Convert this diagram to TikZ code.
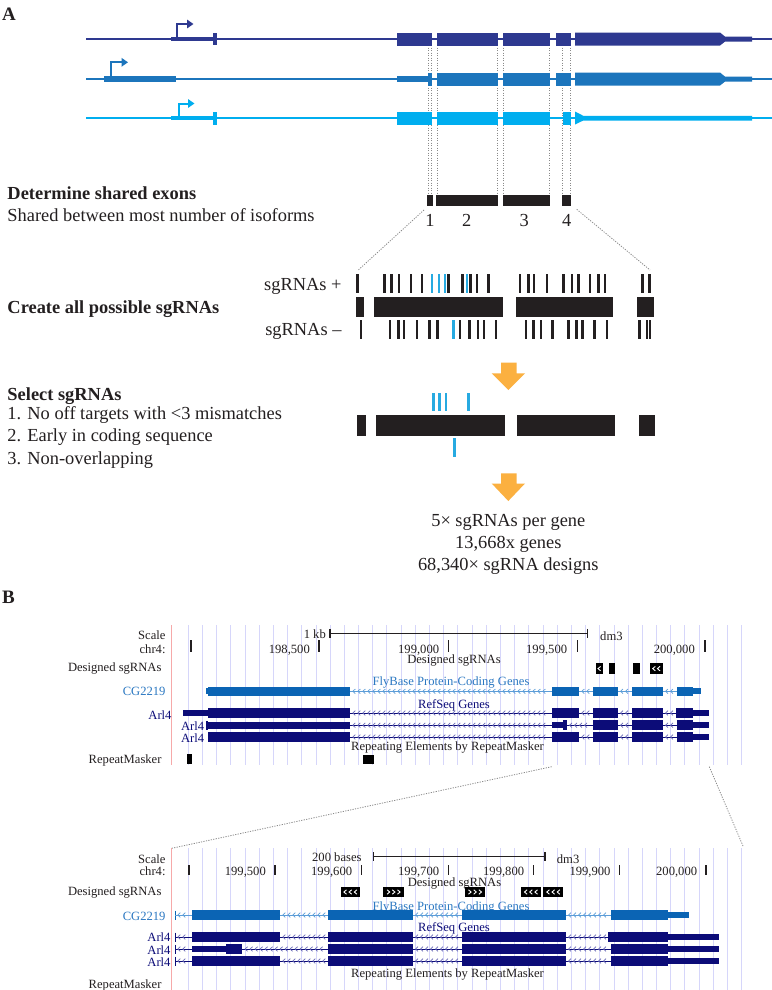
\documentclass[tikz,border=0pt]{standalone}
\usepackage{fontspec}
\setmainfont{Liberation Serif}
\usetikzlibrary{arrows.meta}
\definecolor{isoA}{HTML}{2E3990}
\definecolor{isoB}{HTML}{1C75BC}
\definecolor{isoC}{HTML}{00AEEF}
\definecolor{sgblue}{HTML}{27AAE1}
\definecolor{barblk}{HTML}{231F20}
\definecolor{orng}{HTML}{FBB040}
\definecolor{fbblue}{HTML}{0B64B4}
\definecolor{fbintr}{HTML}{5C9DD8}
\definecolor{fblabel}{HTML}{2B78C2}
\definecolor{rsnavy}{HTML}{0C0C78}
\definecolor{rsintr}{HTML}{6A6AB8}
\definecolor{gridc}{HTML}{D6D6FA}
\definecolor{pinkc}{HTML}{F6A9A9}
\definecolor{dotg}{HTML}{8A8A8A}
\definecolor{txtc}{HTML}{231F20}

\newcommand{\myintron}[5]{%
  \draw[#4,line width=0.9bp] (#1,#3) -- (#2,#3);
  \pgfmathtruncatemacro{\mynch}{((#2)-(#1)-2)/5}
  \ifnum\mynch>0
    \foreach \myk in {1,...,\mynch}{%
      \pgfmathsetmacro{\myxc}{#1+5*\myk-1}
      \draw[#5,line width=0.7bp] (\myxc+1.3,#3-2.3) -- (\myxc-1.2,#3) -- (\myxc+1.3,#3+2.3);
    }
  \fi
}
\newcommand{\myexon}[5]{\fill[#5] (#1,#3) rectangle (#2,#4);}
\newcommand{\mywchl}[2]{\draw[white,line width=0.9bp] (#1+1.3,#2-2.2) -- (#1-1.3,#2) -- (#1+1.3,#2+2.2);}
\newcommand{\mywchr}[2]{\draw[white,line width=0.9bp] (#1-1.3,#2-2.2) -- (#1+1.3,#2) -- (#1-1.3,#2+2.2);}

\tikzset{
  ta/.style={font=\fontsize{18.4bp}{22bp}\selectfont, text=txtc, inner sep=0pt},
  tab/.style={ta, font=\fontsize{18.4bp}{22bp}\selectfont\bfseries},
  tb/.style={font=\fontsize{12.6bp}{15bp}\selectfont, text=txtc, inner sep=0pt},
  dotl/.style={dotg, line width=0.8bp, dash pattern=on 1.2bp off 1.3bp},
  prom/.style={line width=2bp, -{Triangle[length=6.5bp,width=8.5bp]}},
  tick/.style={barblk, line width=2.4bp},
  sgtick/.style={sgblue, line width=2.4bp},
  gline/.style={gridc, line width=1bp},
  rul/.style={txtc, line width=1.1bp},
}

\begin{document}
\begin{tikzpicture}[x=1bp,y=-1bp]
\useasboundingbox (0,0) rectangle (772,990);
\fill[white] (0,0) rectangle (772,990);

% ================= PANEL A =================
\node[tab, anchor=base west, font=\fontsize{19bp}{22bp}\selectfont\bfseries] (labA) at (2,20) {A};

% dotted verticals (behind isoforms)
\foreach \xx in {428,431,437,497.5,503.5,549.5,562.5,570.5}
  \draw[dotl] (\xx,45) -- (\xx,195);

% isoform 1
\draw[isoA, line width=2bp] (86,39) -- (772,39);
\fill[isoA] (171,36.8) rectangle (213.3,41.3);
\fill[isoA] (213.3,33.3) rectangle (217,45);
\draw[isoA, prom] (177,39) -- (177,24) -- (193.5,24);
\myexon{396.7}{432.3}{32.5}{45.5}{isoA}
\myexon{436.7}{498}{32.5}{45.5}{isoA}
\myexon{503.3}{550}{32.5}{45.5}{isoA}
\myexon{556}{571}{32.5}{45.5}{isoA}
\fill[isoA] (575,32.5) -- (720,32.5) -- (725,36.6) -- (752,36.6) -- (752,41.6) -- (725,41.6) -- (720,45.5) -- (575,45.5) -- cycle;

% isoform 2
\draw[isoB, line width=2bp] (86,79) -- (772,79);
\fill[isoB] (104.3,76.3) rectangle (175.7,81.7);
\draw[isoB, prom] (110.5,79) -- (110.5,62.3) -- (128,62.3);
\fill[isoB] (397,76.3) rectangle (428,81.7);
\myexon{428}{432.3}{72.5}{85.5}{isoB}
\myexon{436.7}{498}{72.5}{85.5}{isoB}
\myexon{503.3}{550}{72.5}{85.5}{isoB}
\myexon{556}{571}{72.5}{85.5}{isoB}
\fill[isoB] (575,72.5) -- (720,72.5) -- (725,76.6) -- (752,76.6) -- (752,81.6) -- (725,81.6) -- (720,85.5) -- (575,85.5) -- cycle;

% isoform 3
\draw[isoC, line width=2bp] (86,118) -- (772,118);
\fill[isoC] (171,115.7) rectangle (213.3,120.3);
\fill[isoC] (213.3,111.8) rectangle (217,124.5);
\draw[isoC, prom] (178.5,118) -- (178.5,103.5) -- (194.5,103.5);
\myexon{396.7}{432.3}{111.5}{124.5}{isoC}
\myexon{436.7}{498}{111.5}{124.5}{isoC}
\myexon{503.3}{550}{111.5}{124.5}{isoC}
\myexon{562.7}{571}{111.5}{124.5}{isoC}
\fill[isoC] (575,111.5) -- (583.3,115.8) -- (752,115.8) -- (752,120.5) -- (583.3,120.5) -- (575,124.5) -- cycle;

% shared exons
\node[tab, anchor=base west] (detT) at (7.3,199) {Determine shared exons};
\node[ta, anchor=base west] (detS) at (7.3,221) {Shared between most number of isoforms};
\myexon{427.3}{432.7}{195}{206}{barblk}
\myexon{436.3}{498.3}{195}{206}{barblk}
\myexon{502.7}{550}{195}{206}{barblk}
\myexon{562.3}{571.3}{195}{206}{barblk}
\node[ta, anchor=base] (n1) at (430,226.5) {1};
\node[ta, anchor=base] (n2) at (466.7,226.5) {2};
\node[ta, anchor=base] (n3) at (524.3,226.5) {3};
\node[ta, anchor=base] (n4) at (566.7,226.5) {4};
\draw[dotl] (424,210) -- (358.3,270);
\draw[dotl] (576.7,209.3) -- (650,270);

% all possible sgRNAs
\node[ta, anchor=base east] (sgp) at (341.7,290.5) {sgRNAs +};
\node[tab, anchor=base west] (crt) at (7.3,313) {Create all possible sgRNAs};
\node[ta, anchor=base east] (sgm) at (341.7,335) {sgRNAs –};
\foreach \xx in {357.3,384.3,391.5,398.8,411,421.7,448.5,462.5,470.5,476.7,488.5,520,528.3,534,546.7,563.3,571.7,578.3,590,598.3,605,642.3,649.3}
  \draw[tick] (\xx,274) -- (\xx,293);
\foreach \xx in {431.7,439,445,466.7}
  \draw[sgtick] (\xx,274) -- (\xx,293);
\myexon{356}{364}{296.5}{317}{barblk}
\myexon{374.3}{503.3}{296.5}{317}{barblk}
\myexon{515.7}{613.3}{296.5}{317}{barblk}
\myexon{637.3}{654}{296.5}{317}{barblk}
\foreach \xx in {360.7,390,398.3,404,416.7,429.3,437.3,460,469.3,477.7,484,496,525.7,533.5,540.7,552.3,568.3,576.5,582.3,594.3,607,639.3,647,650.2}
  \draw[tick] (\xx,320) -- (\xx,338.7);
\draw[sgtick] (453.3,320) -- (453.3,338.7);

% arrow 1
\fill[orng] (501,362.7) -- (516.7,362.7) -- (516.7,373.3) -- (525,373.3) -- (508.3,390) -- (491.7,373.3) -- (501,373.3) -- cycle;

% select sgRNAs
\node[tab, anchor=base west] (selT) at (7.3,400) {Select sgRNAs};
\node[ta, anchor=base west] (sel1) at (7.3,419) {1. No off targets with <3 mismatches};
\node[ta, anchor=base west] (sel2) at (7.3,441.5) {2. Early in coding sequence};
\node[ta, anchor=base west] (sel3) at (7.3,464) {3. Non-overlapping};
\foreach \xx in {433.3,439.3,446,468.3}
  \draw[sgtick] (\xx,393.3) -- (\xx,410.7);
\myexon{357.3}{365.7}{415}{435.7}{barblk}
\myexon{375.7}{505}{415}{435.7}{barblk}
\myexon{517.3}{615}{415}{435.7}{barblk}
\myexon{639}{655}{415}{435.7}{barblk}
\draw[sgtick] (454.3,438.3) -- (454.3,456.7);

% arrow 2
\fill[orng] (501,473.3) -- (516.7,473.3) -- (516.7,483.5) -- (525,483.5) -- (508.3,501) -- (491.7,483.5) -- (501,483.5) -- cycle;

\node[ta, anchor=base] (res1) at (508.3,526) {5× sgRNAs per gene};
\node[ta, anchor=base] (res2) at (508.3,548) {13,668x genes};
\node[ta, anchor=base] (res3) at (508.3,570) {68,340× sgRNA designs};

% ================= PANEL B =================
\node[tab, anchor=base west, font=\fontsize{19bp}{22bp}\selectfont\bfseries] (labB) at (2,603) {B};

% ---- top browser ----
\foreach \i in {0,...,39}
  \draw[gline] (188.3+14.19*\i,625) -- (188.3+14.19*\i,765);
\draw[pinkc, line width=1.1bp] (171.7,625) -- (171.7,765);

\node[tb, anchor=base east] (sc1) at (165.7,639) {Scale};
\node[tb, anchor=base east] (chA) at (165.7,653) {chr4:};
\node[tb, anchor=base east] (kb) at (326,638.5) {1 kb};
\draw[rul] (330,633.3) -- (587.3,633.3);
\draw[rul] (330,628.8) -- (330,637.8);
\draw[rul] (587.3,628.8) -- (587.3,637.8);
\node[tb, anchor=base west] (dmA) at (600,640) {dm3};
\foreach \xx in {191,319,448.3,577.3,705}
  \draw[rul] (\xx,640) -- (\xx,652);
\node[tb, anchor=base east] (pA1) at (310,653) {198,500};
\node[tb, anchor=base east] (pA2) at (439.3,653) {199,000};
\node[tb, anchor=base east] (pA3) at (567.3,653) {199,500};
\node[tb, anchor=base east] (pA4) at (695,653) {200,000};

\node[tb, anchor=base east] (dsA) at (161.7,671.7) {Designed sgRNAs};
\node[tb, anchor=base] (dsAc) at (454,663.7) {Designed sgRNAs};
\myexon{596}{602.7}{663.3}{674}{black}
\mywchl{599.3}{668.6}
\myexon{609.3}{615.3}{663.3}{674}{black}
\myexon{633.3}{640}{663.3}{674}{black}
\myexon{650}{662.7}{663.3}{674}{black}
\mywchl{654}{668.6}
\mywchl{658.7}{668.6}

\node[tb, anchor=base east, text=fblabel] (cgA) at (165.7,695) {CG2219};
\node[tb, anchor=base, text=fblabel] (fbA) at (451,685) {FlyBase Protein-Coding Genes};
\node[tb, anchor=base, text=rsnavy] (rsA) at (454,708.3) {RefSeq Genes};
\node[tb, anchor=base] (reA) at (447.5,750.5) {Repeating Elements by RepeatMasker};
\node[tb, anchor=base east, text=rsnavy] (arA1) at (171.7,719) {Arl4};
\node[tb, anchor=base east, text=rsnavy] (arA2) at (204.3,730.7) {Arl4};
\node[tb, anchor=base east, text=rsnavy] (arA3) at (204.3,742.3) {Arl4};
\node[tb, anchor=base east] (rmA) at (161.7,763.3) {RepeatMasker};

% CG2219 (top), centre y 691.3
\myintron{350}{551.7}{691.3}{fbintr}{fbintr}
\myintron{579}{593.3}{691.3}{fbintr}{fbintr}
\myintron{617.7}{632.3}{691.3}{fbintr}{fbintr}
\myintron{662.7}{677.3}{691.3}{fbintr}{fbintr}
\myexon{206}{208}{688.3}{694.3}{fbblue}
\myexon{207.7}{350}{686.5}{696}{fbblue}
\myexon{551.7}{579}{686.5}{696}{fbblue}
\myexon{593.3}{617.7}{686.5}{696}{fbblue}
\myexon{632.3}{662.7}{686.5}{696}{fbblue}
\myexon{677.3}{693.3}{686.5}{696}{fbblue}
\myexon{693.3}{701}{688.3}{694.3}{fbblue}

% Arl4 row 1, centre 713
\myintron{350}{551.7}{713}{rsnavy}{rsintr}
\myintron{579}{593.3}{713}{rsnavy}{rsintr}
\myintron{617.7}{632.3}{713}{rsnavy}{rsintr}
\myintron{662.7}{676}{713}{rsnavy}{rsintr}
\myexon{183.3}{207.7}{710.3}{716}{rsnavy}
\myexon{207.7}{350}{708}{718.3}{rsnavy}
\myexon{551.7}{579}{708}{718.3}{rsnavy}
\myexon{593.3}{617.7}{708}{718.3}{rsnavy}
\myexon{632.3}{662.7}{708}{718.3}{rsnavy}
\myexon{676}{693.3}{708}{718.3}{rsnavy}
\myexon{693.3}{709.3}{710.3}{716}{rsnavy}

% Arl4 row 2, centre 725.2
\myintron{350}{551.7}{725.2}{rsnavy}{rsintr}
\myintron{566.7}{593.3}{725.2}{rsnavy}{rsintr}
\myintron{617.7}{632.3}{725.2}{rsnavy}{rsintr}
\myintron{662.7}{677.3}{725.2}{rsnavy}{rsintr}
\myexon{206}{208}{721}{729.5}{rsnavy}
\myexon{207.7}{350}{722}{728.5}{rsnavy}
\myexon{551.7}{562.7}{722.4}{728}{rsnavy}
\myexon{562.7}{566.7}{720}{730.3}{rsnavy}
\myexon{593.3}{617.7}{720}{730.3}{rsnavy}
\myexon{632.3}{662.7}{720}{730.3}{rsnavy}
\myexon{677.3}{693.3}{720}{730.3}{rsnavy}
\myexon{693.3}{709.3}{722.4}{728}{rsnavy}

% Arl4 row 3, centre 737
\myintron{350}{551.7}{737}{rsnavy}{rsintr}
\myintron{579}{593.3}{737}{rsnavy}{rsintr}
\myintron{617.7}{632.3}{737}{rsnavy}{rsintr}
\myintron{662.7}{677.3}{737}{rsnavy}{rsintr}
\myexon{207.7}{350}{732}{742}{rsnavy}
\myexon{551.7}{579}{732}{742}{rsnavy}
\myexon{593.3}{617.7}{732}{742}{rsnavy}
\myexon{632.3}{662.7}{732}{742}{rsnavy}
\myexon{677.3}{693.3}{732}{742}{rsnavy}
\myexon{693.3}{709.3}{734.3}{739.7}{rsnavy}

% RepeatMasker
\myexon{186.7}{191.7}{754}{764}{black}
\myexon{363.3}{374}{755}{764}{black}

% zoom lines
\coordinate (zl1) at (551.7,766.7);
\coordinate (zl2) at (171.7,848.3);
\coordinate (zr1) at (709.3,766.7);
\coordinate (zr2) at (743.3,846.7);
\draw[dotl] (zl1) -- (zl2);
\draw[dotl] (zr1) -- (zr2);

% ---- bottom browser ----
\foreach \i in {0,...,39}
  \draw[gline] (188.3+14.19*\i,848.3) -- (188.3+14.19*\i,990);
\draw[pinkc, line width=1.1bp] (171.7,848.3) -- (171.7,990);

\node[tb, anchor=base east] (sc2) at (165.7,863.3) {Scale};
\node[tb, anchor=base east] (chB) at (165.7,875.7) {chr4:};
\node[tb, anchor=base east] (bases) at (361.7,861.7) {200 bases};
\draw[rul] (373.3,856.7) -- (545,856.7);
\draw[rul] (373.3,852.2) -- (373.3,861.2);
\draw[rul] (545,852.2) -- (545,861.2);
\node[tb, anchor=base west] (dmB) at (556.7,863) {dm3};
\foreach \xx in {189,275,361.7,448.3,533.3,619.3,706}
  \draw[rul] (\xx,865) -- (\xx,875);
\node[tb, anchor=base east] (pB1) at (266,875.7) {199,500};
\node[tb, anchor=base east] (pB2) at (352.3,875.7) {199,600};
\node[tb, anchor=base east] (pB3) at (439.3,875.7) {199,700};
\node[tb, anchor=base east] (pB4) at (524.3,875.7) {199,800};
\node[tb, anchor=base east] (pB5) at (610.7,875.7) {199,900};
\node[tb, anchor=base east] (pB6) at (697.3,875.7) {200,000};

\node[tb, anchor=base east] (dsB) at (161.7,895.7) {Designed sgRNAs};
\node[tb, anchor=base] (dsBc) at (454.5,886.7) {Designed sgRNAs};
\myexon{340.7}{360}{886.7}{897.3}{black}
\mywchl{345.2}{892}\mywchl{350.4}{892}\mywchl{355.6}{892}
\myexon{383.3}{404}{886.7}{897.3}{black}
\mywchr{388.4}{892}\mywchr{393.6}{892}\mywchr{398.8}{892}
\myexon{465}{485}{886.7}{897.3}{black}
\mywchr{469.8}{892}\mywchr{475}{892}\mywchr{480.2}{892}
\myexon{521}{541}{886.7}{897.3}{black}
\mywchl{525.8}{892}\mywchl{531}{892}\mywchl{536.2}{892}
\myexon{543.3}{563.3}{886.7}{897.3}{black}
\mywchl{548.1}{892}\mywchl{553.3}{892}\mywchl{558.5}{892}

\node[tb, anchor=base east, text=fblabel] (cgB) at (165.7,920) {CG2219};
\node[tb, anchor=base, text=fblabel] (fbB) at (451,910) {FlyBase Protein-Coding Genes};
\node[tb, anchor=base, text=rsnavy] (rsB) at (454,931) {RefSeq Genes};
\node[tb, anchor=base] (reB) at (447.5,977.7) {Repeating Elements by RepeatMasker};
\node[tb, anchor=base east, text=rsnavy] (arB1) at (170.7,941.7) {Arl4};
\node[tb, anchor=base east, text=rsnavy] (arB2) at (170.7,954) {Arl4};
\node[tb, anchor=base east, text=rsnavy] (arB3) at (170.7,966) {Arl4};
\node[tb, anchor=base east] (rmB) at (161.7,988.3) {RepeatMasker};

% CG2219 bottom, centre 915
\draw[fbblue, line width=1bp] (175,910.5) -- (175,919.5);
\myintron{175}{191.7}{915}{fbintr}{fbintr}
\myintron{280}{328.3}{915}{fbintr}{fbintr}
\myintron{412.7}{461.7}{915}{fbintr}{fbintr}
\myintron{565.7}{611}{915}{fbintr}{fbintr}
\myexon{191.7}{280}{910}{920}{fbblue}
\myexon{328.3}{412.7}{910}{920}{fbblue}
\myexon{461.7}{565.7}{910}{920}{fbblue}
\myexon{611}{667.7}{910}{920}{fbblue}
\myexon{667.7}{689}{912.3}{917.7}{fbblue}

% Arl4 bottom rows
\foreach \yy/\xs in {937/608.3, 949/611, 961/611}{
  \draw[rsnavy, line width=1bp] (175,\yy-4.5) -- (175,\yy+4.5);
  \myintron{175}{191.7}{\yy}{rsnavy}{rsintr}
  \myintron{412.7}{461.7}{\yy}{rsnavy}{rsintr}
  \myintron{565.7}{\xs}{\yy}{rsnavy}{rsintr}
  \myexon{328.3}{412.7}{\yy-5.2}{\yy+5.2}{rsnavy}
  \myexon{461.7}{565.7}{\yy-5.2}{\yy+5.2}{rsnavy}
  \myexon{\xs}{667.7}{\yy-5.2}{\yy+5.2}{rsnavy}
  \myexon{667.7}{719.3}{\yy-2.8}{\yy+2.8}{rsnavy}
}
\myintron{280}{328.3}{937}{rsnavy}{rsintr}
\myexon{191.7}{280}{931.8}{942.2}{rsnavy}
\myintron{242.3}{328.3}{949}{rsnavy}{rsintr}
\myexon{191.7}{226}{946.3}{951.7}{rsnavy}
\myexon{226}{242.3}{943.8}{954.2}{rsnavy}
\myintron{280}{328.3}{961}{rsnavy}{rsintr}
\myexon{191.7}{280}{955.8}{966.2}{rsnavy}

\end{tikzpicture}
\end{document}
